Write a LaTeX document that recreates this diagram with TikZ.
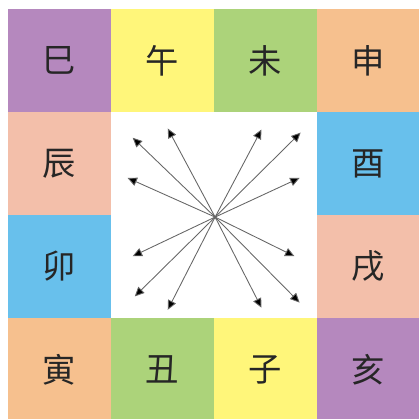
\documentclass[tikz,border=0pt]{standalone}
\usepackage{fontspec}
\usetikzlibrary{arrows.meta}
\newfontfamily\cjk{Noto Sans CJK SC}
\definecolor{zpurple}{RGB}{181,136,190}
\definecolor{zyellow}{RGB}{255,246,122}
\definecolor{zgreen}{RGB}{172,211,122}
\definecolor{zorange}{RGB}{246,192,142}
\definecolor{zsalmon}{RGB}{243,191,170}
\definecolor{zblue}{RGB}{104,192,236}

\begin{document}
\begin{tikzpicture}[x=2.5cm, y=-2.5cm,
  cell/.style={minimum size=2.5cm, inner sep=0pt, font=\cjk\fontsize{23}{23}\selectfont, text=black!85},
  ray/.style={-{Triangle[length=6.5pt,width=6pt,fill=black]}, draw=black!60, line width=.6pt}]
\useasboundingbox (-0.078,-0.087) rectangle (3.98,3.98);
% top row
\node[cell, fill=zpurple] (si) at (0.5,0.5) {巳};
\node[cell, fill=zyellow] (wu) at (1.5,0.5) {午};
\node[cell, fill=zgreen] (wei) at (2.5,0.5) {未};
\node[cell, fill=zorange] (shen) at (3.5,0.5) {申};
% sides
\node[cell, fill=zsalmon] (chen) at (0.5,1.5) {辰};
\node[cell, fill=zblue] (you) at (3.5,1.5) {酉};
\node[cell, fill=zblue] (mao) at (0.5,2.5) {卯};
\node[cell, fill=zsalmon] (xu) at (3.5,2.5) {戌};
% bottom row
\node[cell, fill=zorange] (yin) at (0.5,3.5) {寅};
\node[cell, fill=zgreen] (chou) at (1.5,3.5) {丑};
\node[cell, fill=zyellow] (zi) at (2.5,3.5) {子};
\node[cell, fill=zpurple] (hai) at (3.5,3.5) {亥};
% arrows from the centre
\coordinate (o) at (2.01,2.02);
\foreach \dx/\dy [count=\k] in {-0.80/-0.77, -0.46/-0.86, 0.45/-0.85, 0.83/-0.82,
  0.82/-0.38, 0.77/0.38, 0.82/0.83, 0.45/0.88,
  -0.46/0.90, -0.78/0.77, -0.80/0.38, -0.85/-0.38}{
\path (o) ++(\dx,\dy) coordinate (t\k);
\draw[ray] (o) -- (t\k);
}
\end{tikzpicture}
\end{document}
